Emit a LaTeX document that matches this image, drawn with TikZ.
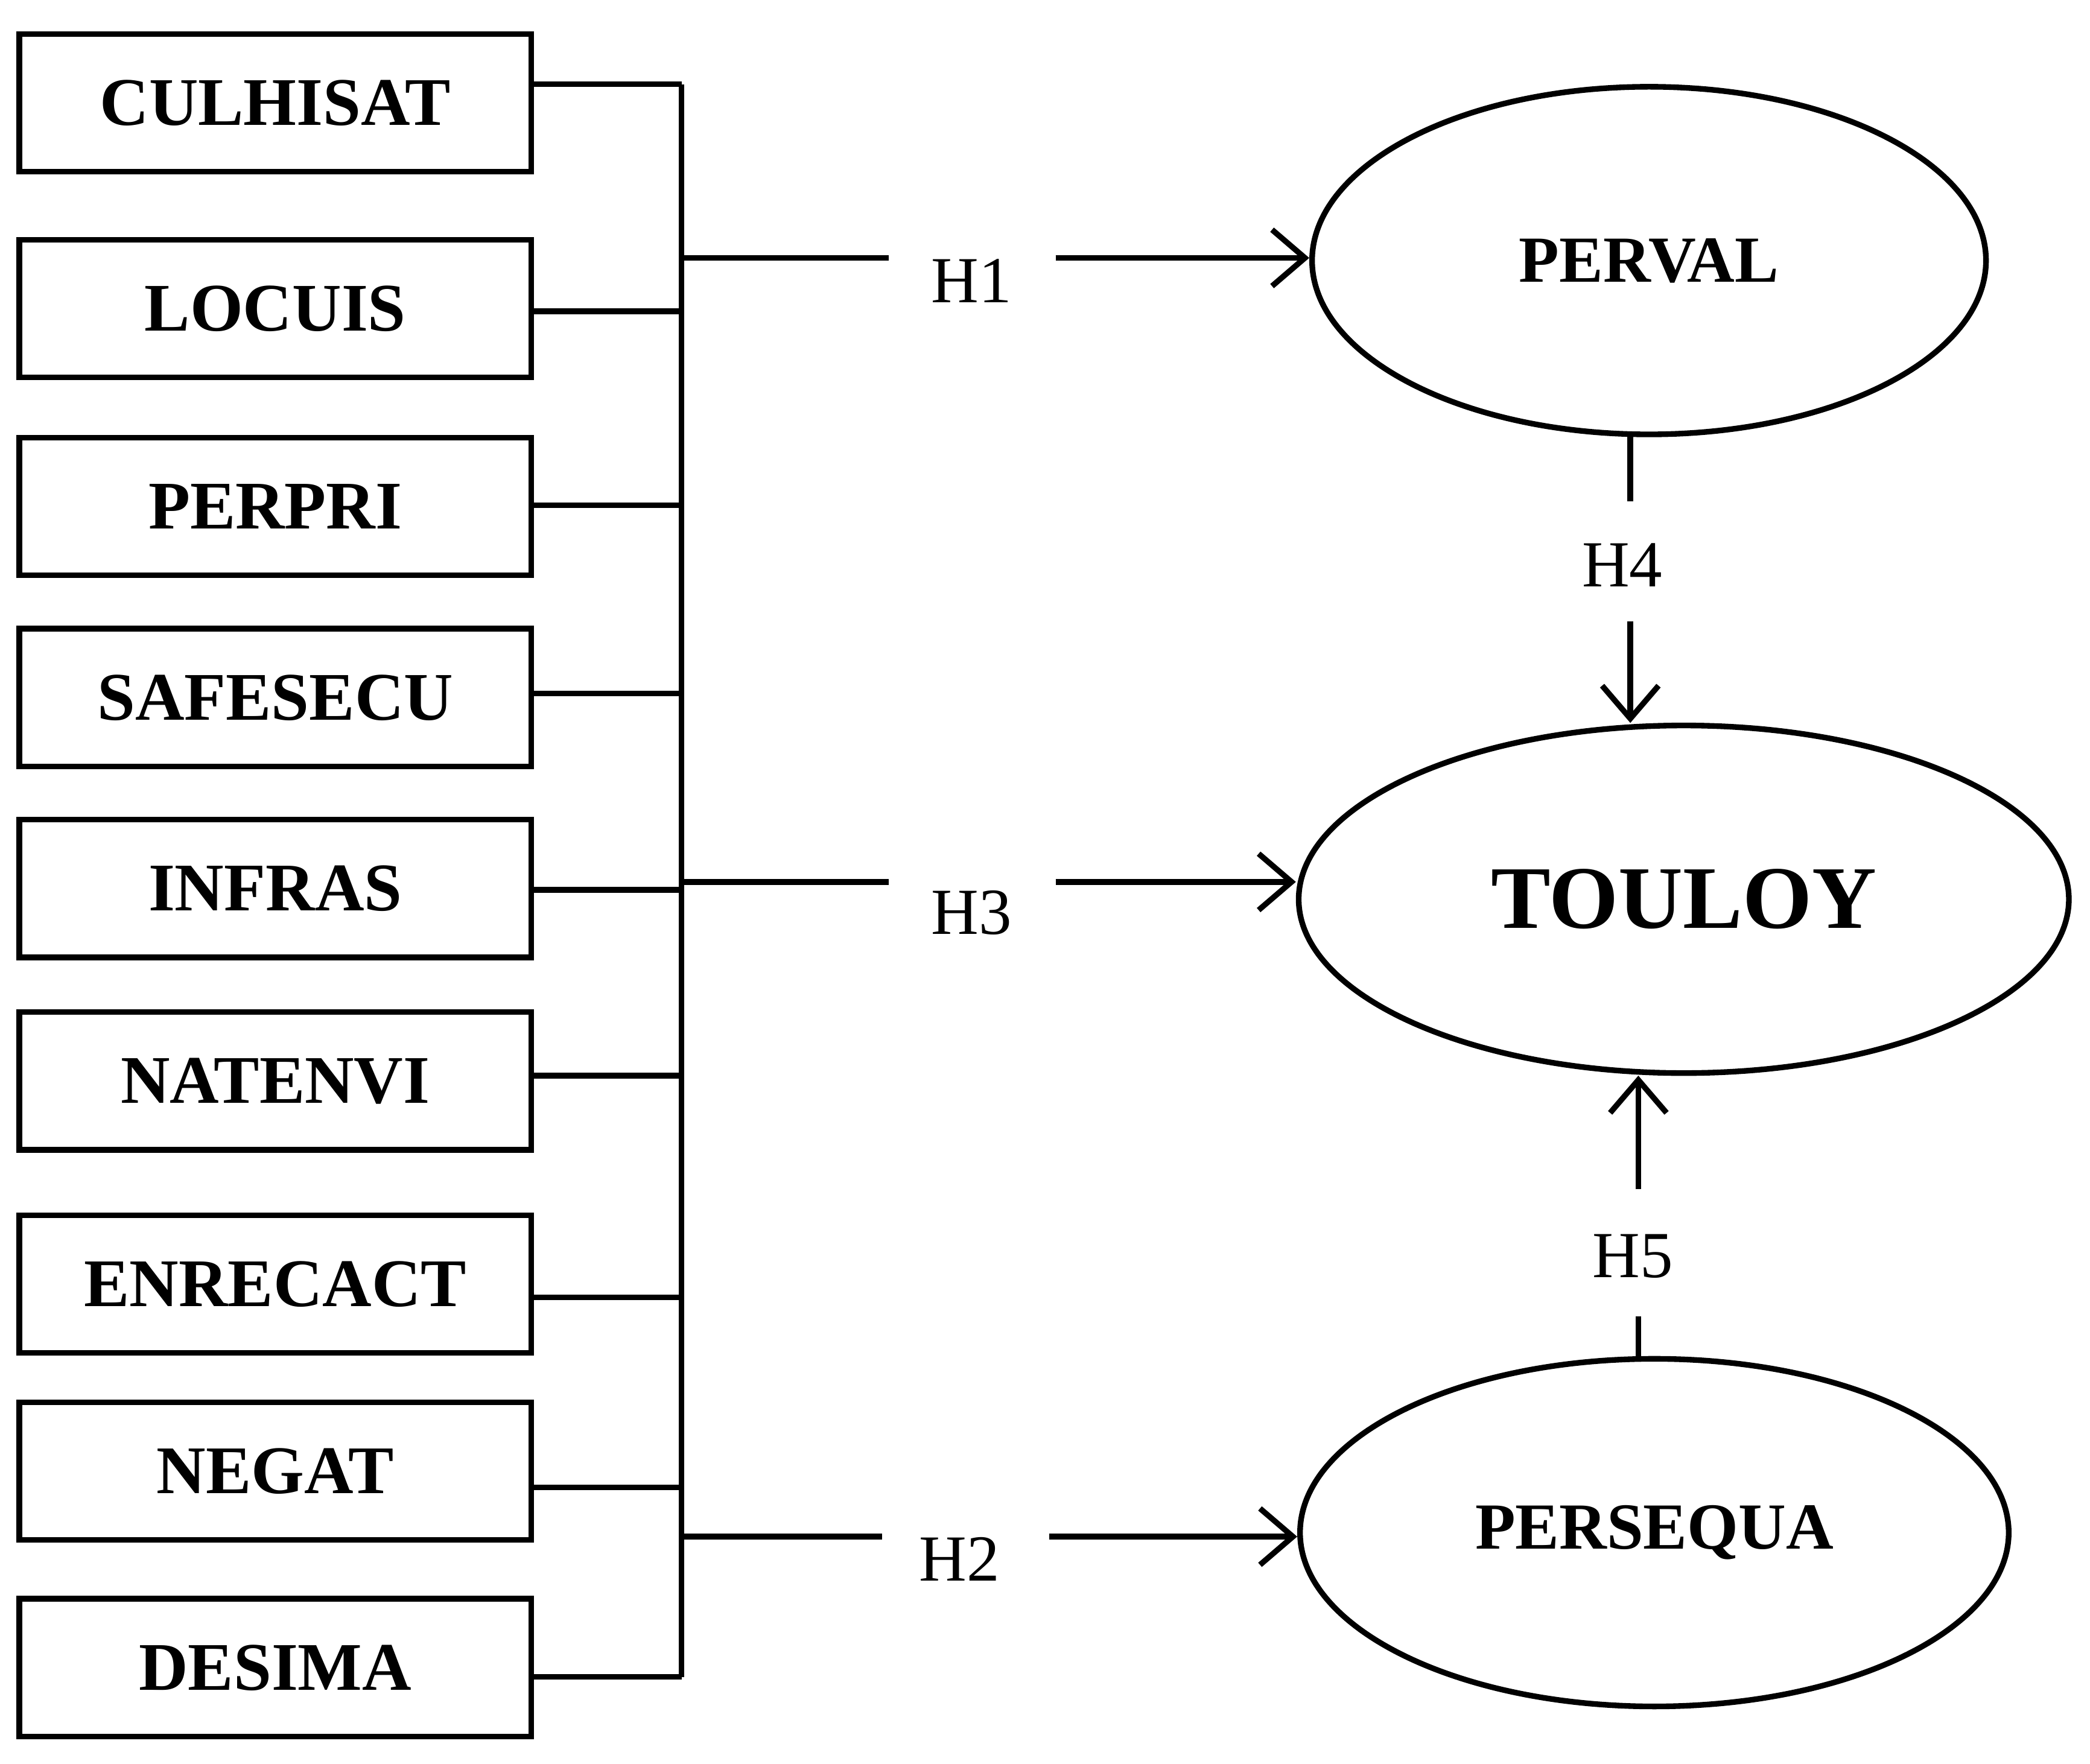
\documentclass[tikz,border=0pt]{standalone}
\usepackage{fontspec}
\setmainfont{Liberation Serif}
\usetikzlibrary{arrows.meta,shapes.geometric}

\begin{document}
\begin{tikzpicture}[x=0.01cm, y=-0.01cm, line width=1.2pt,
                    box/.style={draw, minimum width=3.83cm, minimum height=1.03cm, font=\fontsize{14.5}{17}\selectfont\bfseries},
                    latent/.style={draw, ellipse, inner sep=0pt},
                    hyp/.style={font=\fontsize{14}{16}\selectfont},
                    arr/.style={-{Straight Barb[length=7pt,width=12pt]}}]
  \useasboundingbox (0,0) rectangle (1564,1320);

  % === Observed variables (Left) ===
  \foreach \name/\y in {CULHISAT/77, LOCUIS/231, PERPRI/379, SAFESECU/522,
                        INFRAS/665, NATENVI/809, ENRECACT/961, NEGAT/1101, DESIMA/1248} {
    \node[box] (\name) at (206,\y) {\name};
  }

  % === Bus ===
  \coordinate (top) at (510,63);
  \coordinate (bot) at (510,1255);
  \draw (top) -- (bot);
  \draw (CULHISAT.east |- top) -- (top);
  \foreach \name/\y in {LOCUIS/233, PERPRI/378, SAFESECU/519, INFRAS/666,
                        NATENVI/805, ENRECACT/971, NEGAT/1113} {
    \draw (\name.east |- 0,\y) -- (510,\y);
  }
  \draw (DESIMA.east |- bot) -- (bot);

  % === Latent variables (Right) ===
  \node[latent, minimum width=5.04cm, minimum height=2.6cm, font=\fontsize{14}{17}\selectfont\bfseries] (PERVAL) at (1234,195) {PERVAL};
  \node[latent, minimum width=5.76cm, minimum height=2.6cm, font=\fontsize{19}{22}\selectfont\bfseries] (TOULOY) at (1260,673) {TOULOY};
  \node[latent, minimum width=5.3cm, minimum height=2.6cm, font=\fontsize{14}{17}\selectfont\bfseries] (PERSEQUA) at (1238,1147) {PERSEQUA};

  % === Hypotheses ===
  \node[hyp] (H1) at (727,210) {H1};
  \node[hyp] (H3) at (727,683) {H3};
  \node[hyp] (H2) at (718,1167) {H2};
  \node[hyp] (H4) at (1214,423) {H4};
  \node[hyp] (H5) at (1222,940) {H5};

  \draw (510,193) -- (665,193);
  \draw[arr] (790,193) -- (PERVAL.west |- 0,193);
  \draw (510,660) -- (665,660);
  \draw[arr] (790,660) -- (TOULOY.west |- 0,660);
  \draw (510,1150) -- (660,1150);
  \draw[arr] (785,1150) -- (PERSEQUA.west |- 0,1150);

  \draw (1220,323) -- (1220,375);
  \draw[arr] (1220,465) -- (1220,541);
  \draw[arr] (1226,890) -- (1226,805);
  \draw (1226,985) -- (1226,1017);
\end{tikzpicture}
\end{document}
